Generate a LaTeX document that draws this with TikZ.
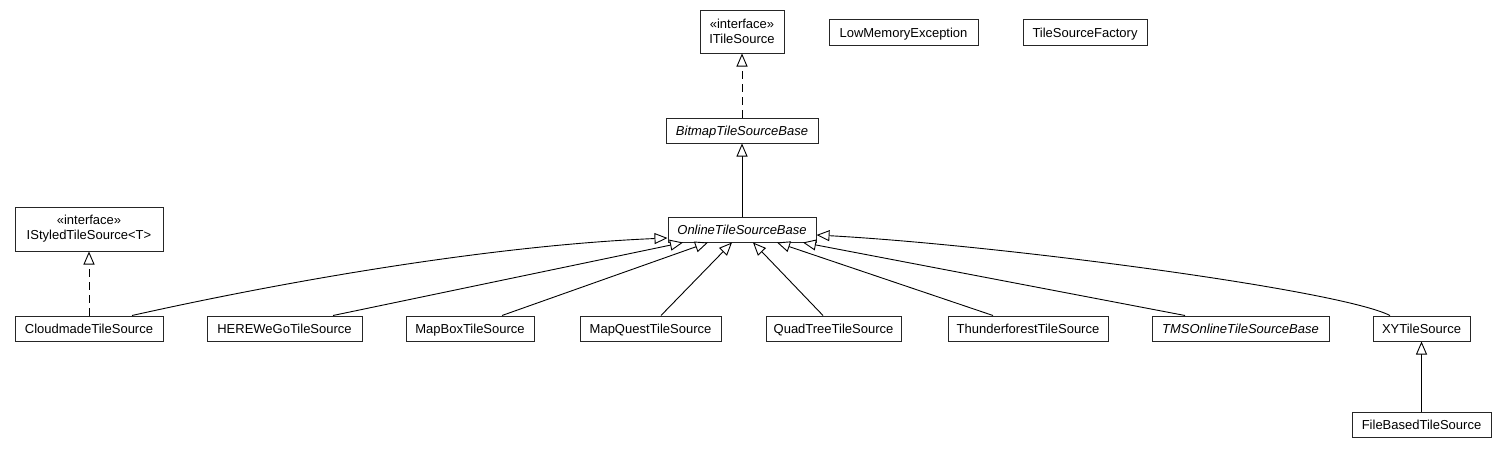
\documentclass[tikz,border=0pt]{standalone}
\usepackage{fontspec}
\setmainfont{Liberation Sans}
\usetikzlibrary{arrows.meta}
\begin{document}
\begin{tikzpicture}[x=1pt,y=-1pt,
  box/.style={draw=black!85,line width=1pt,fill=white,inner sep=0pt,align=center,font=\fontsize{13}{15}\selectfont},
  cls/.style={box,text height=10pt,text depth=0pt},
  ifc/.style={box},
  gen/.style={-{Triangle[open,length=13pt,width=11pt,fill=white]},line width=0.9pt},
  real/.style={gen,dash pattern=on 8pt off 5pt}]
\useasboundingbox (0,0) rectangle (1507,453);
\node[ifc,minimum width=84pt,minimum height=43pt] (its) at (742,31.5) {«interface»\\ITileSource};
\node[cls,minimum width=149pt,minimum height=26pt] (lme) at (903.5,32) {LowMemoryException};
\node[cls,minimum width=124pt,minimum height=26pt] (tsf) at (1085,32) {TileSourceFactory};
\node[cls,minimum width=152pt,minimum height=25pt] (bmp) at (742,130.5) {\itshape BitmapTileSourceBase};
\node[cls,minimum width=148pt,minimum height=25pt] (onl) at (742,229.5) {\itshape OnlineTileSourceBase};
\node[ifc,minimum width=148pt,minimum height=44pt] (sty) at (89,229) {«interface»\\IStyledTileSource<T>};
\node[cls,minimum width=148pt,minimum height=25pt] (cld) at (89,328.5) {CloudmadeTileSource};
\node[cls,minimum width=155pt,minimum height=25pt] (her) at (284.5,328.5) {HEREWeGoTileSource};
\node[cls,minimum width=128pt,minimum height=25pt] (mbx) at (470,328.5) {MapBoxTileSource};
\node[cls,minimum width=141pt,minimum height=25pt] (mqs) at (650.5,328.5) {MapQuestTileSource};
\node[cls,minimum width=135pt,minimum height=25pt] (qdt) at (833.5,328.5) {QuadTreeTileSource};
\node[cls,minimum width=160pt,minimum height=25pt] (thf) at (1028,328.5) {ThunderforestTileSource};
\node[cls,minimum width=177pt,minimum height=25pt] (tms) at (1240.5,328.5) {\itshape TMSOnlineTileSourceBase};
\node[cls,minimum width=97pt,minimum height=25pt] (xyt) at (1421.5,328.5) {XYTileSource};
\node[cls,minimum width=139pt,minimum height=25pt] (fbt) at (1421.5,424.5) {FileBasedTileSource};

\draw[real] (bmp.north) -- (its.south);
\draw[gen] (onl.north) -- (bmp.south);
\draw[real] (cld.north) -- (sty.south);
\draw[gen] (fbt.north) -- (xyt.south);

\draw[gen] ([xshift=43pt]cld.north) .. controls (300,278) and (500,245) .. ([yshift=-8.5pt]onl.west);
\draw[gen] ([xshift=48.5pt]her.north) -- ([xshift=-59pt]onl.south);
\draw[gen] ([xshift=32pt]mbx.north) -- ([xshift=-34pt]onl.south);
\draw[gen] ([xshift=10.5pt]mqs.north) -- ([xshift=-10pt]onl.south);
\draw[gen] ([xshift=-10.5pt]qdt.north) -- ([xshift=11pt]onl.south);
\draw[gen] ([xshift=-35pt]thf.north) -- ([xshift=35pt]onl.south);
\draw[gen] ([xshift=-55.5pt]tms.north) -- ([xshift=61pt]onl.south);
\draw[gen] ([xshift=-31.5pt]xyt.north) .. controls (1340,290) and (1000,245) .. ([yshift=-5.5pt]onl.east);
\end{tikzpicture}
\end{document}
